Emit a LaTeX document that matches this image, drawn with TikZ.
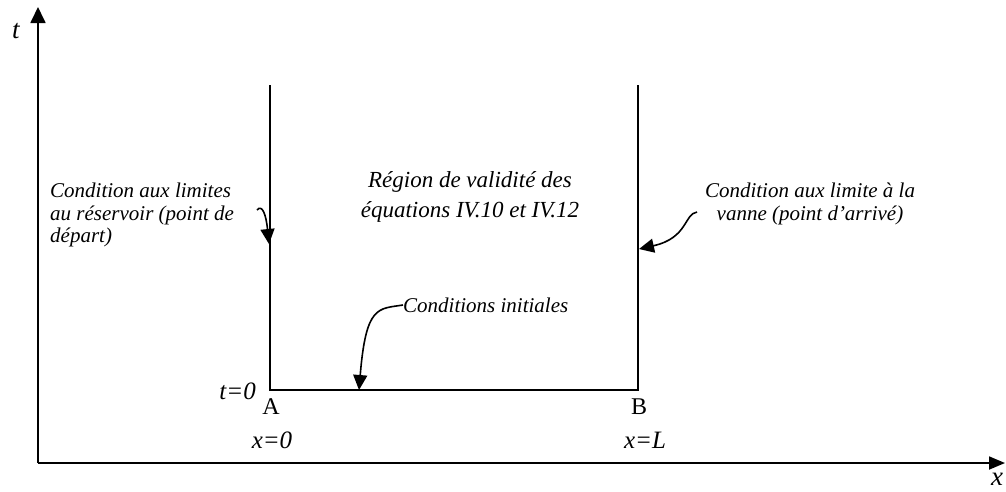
\documentclass[tikz,border=0pt]{standalone}
\usepackage{fontspec}
\setmainfont{Liberation Serif}
\usetikzlibrary{arrows.meta}

\begin{document}
\begin{tikzpicture}[x=1pt, y=-1pt,
    txt/.style = {font=\fontsize{21}{22.5}\selectfont\itshape, inner sep=0pt},
    big/.style = {font=\fontsize{23}{30}\selectfont\itshape, inner sep=0pt, align=center},
    lettre/.style = {font=\fontsize{24}{24}\selectfont, inner sep=0pt},
    bas/.style = {font=\fontsize{25}{25}\selectfont\itshape, inner sep=0pt},
    trait/.style = {line width=1.8pt},
    fleche/.style = {line width=1.6pt, -{Triangle[length=15pt,width=14pt]}}]
            \useasboundingbox (0,0) rectangle (1006,491);

            % axes
            \coordinate (O) at (38,463);
            \coordinate (tmax) at (38,7);
            \coordinate (xmax) at (1005,463);
            \draw[trait, -{Triangle[length=16pt,width=15pt]}] (O) -- (tmax);
            \draw[trait, -{Triangle[length=16pt,width=13pt]}] (O) -- (xmax);
            \node[bas, font=\fontsize{27}{27}\selectfont\itshape] (t) at (16,31) {t};
            \node[bas, font=\fontsize{27}{27}\selectfont\itshape] (x) at (997,479) {x};

            % domaine
            \coordinate (Ahaut) at (270,85);
            \coordinate (A) at (270,390);
            \coordinate (B) at (638,390);
            \coordinate (Bhaut) at (638,85);
            \draw[trait] (Ahaut) -- (A) -- (B) -- (Bhaut);

            \node[lettre] (lA) at (271,407) {A};
            \node[lettre] (lB) at (639,407) {B};
            \node[bas, anchor=east] (t0) at (256,391) {t=0};
            \node[bas] (x0) at (272,440) {x=0};
            \node[bas] (xL) at (645,440) {x=L};

            % textes
            \node[big] (region) at (470,197) {Région de validité des\\équations IV.10 et IV.12};
            \node[txt, align=left, anchor=west] (gauche) at (50,215) {Condition aux limites\\au réservoir (point de\\départ)};
            \node[txt, align=center] (droite) at (810,204) {Condition aux limite à la\\vanne (point d’arrivé)};
            \node[txt, anchor=west] (init) at (403,305) {Conditions initiales};

            % fleches
            \coordinate (pg) at (269,244);
            \coordinate (pd) at (639,249);
            \coordinate (pi) at (359,390);
            \draw[fleche] (257,210) .. controls (262,204) and (266,214) .. (pg);
            \draw[fleche] (697,212) .. controls (684,214) and (688,238) .. (pd);
            \draw[fleche] (init.west) .. controls (378,309) and (366,305) .. (pi);
\end{tikzpicture}
\end{document}
